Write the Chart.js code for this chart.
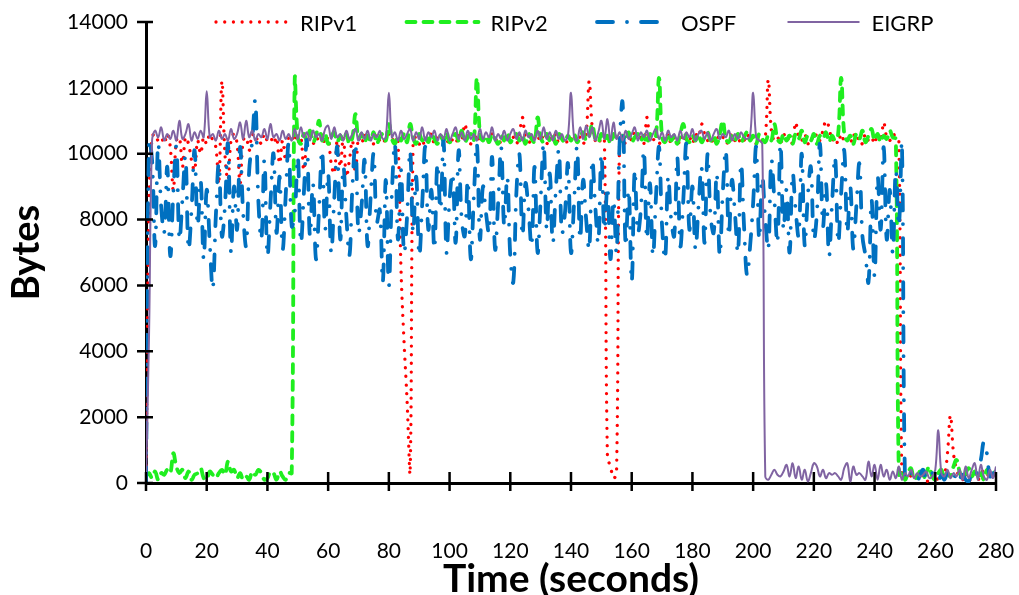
<!DOCTYPE html>
<html>
<head>
<meta charset="utf-8">
<title>Routing protocol traffic</title>
<script src="https://cdn.jsdelivr.net/npm/chart.js@4.4.1/dist/chart.umd.min.js"></script>
<style>
  html, body { margin: 0; padding: 0; background: #fff; }
  #wrap { width: 1019px; height: 595px; }
</style>
</head>
<body>
<div id="wrap"><canvas id="chart" width="1019" height="595"></canvas></div>
<script>
// Bytes per second, one sample per second from t = 0 to t = 280
const ripv1 = [
  0, 8500, 10500, 10600, 10400, 10500, 10300, 10600, 10200, 8900,
  10400, 10500, 9600, 10500, 10300, 9800, 9500, 10400, 10000, 10500,
  10300, 10600, 10400, 10200, 9100, 12200, 10000, 9200, 10400, 10600,
  10300, 9100, 10400, 10500, 10100, 10600, 10400, 10500, 10300, 10600,
  10400, 10500, 10300, 10500, 9700, 10400, 9800, 10500, 10400, 10600,
  10300, 10500, 9500, 10400, 10600, 10300, 10500, 10400, 10600, 10300,
  10500, 9700, 9400, 10400, 9600, 10500, 9300, 9800, 10400, 9400,
  10500, 10300, 10600, 10400, 10500, 10300, 10600, 10400, 10300, 10500,
  10600, 10400, 10500, 10400, 6500, 4300, 2500, 300, 10400, 10500,
  10300, 10200, 10500, 10400, 10600, 10300, 10500, 10400, 10600, 10300,
  10500, 10400, 10300, 10600, 10400, 10900, 10500, 10300, 10400, 10600,
  10400, 10500, 10300, 10400, 10600, 10400, 10500, 10300, 10400, 10600,
  10400, 10500, 10300, 10600, 11100, 10500, 10400, 10300, 10500, 10400,
  10600, 10400, 10300, 10500, 10400, 10600, 10300, 10400, 10500, 10300,
  10400, 10600, 10400, 10500, 10300, 10600, 12200, 10800, 10400, 10500,
  10300, 10400, 800, 500, 150, 300, 10400, 10500, 10300, 10600,
  10400, 10700, 10400, 10500, 10300, 11100, 10500, 10400, 10600, 10300,
  10500, 10400, 10600, 10300, 10500, 10400, 10300, 10600, 10400, 10500,
  10300, 10600, 10500, 10900, 10600, 10400, 10500, 10300, 10600, 10400,
  10500, 10300, 10400, 10600, 10400, 10500, 10300, 10400, 10600, 10400,
  10500, 10300, 10600, 10400, 10500, 12250, 10700, 10400, 10500, 10300,
  10600, 10400, 10500, 10300, 10950, 10500, 10400, 10600, 10300, 10500,
  10400, 10600, 10400, 10700, 11000, 10800, 10400, 10500, 10300, 10600,
  10400, 10500, 10300, 10600, 10400, 10500, 10300, 10600, 10400, 10500,
  10300, 10600, 10400, 10950, 10500, 10400, 10600, 10500, 10400, 200,
  150, 300, 200, 100, 250, 300, 150, 50, 100, 300,
  200, 100, 300, 250, 900, 2050, 900, 400, 200, 100,
  300, 50, 200, 300, 100, 250, 400, 300, 150, 350, 300
];

const ripv2 = [
  200, 300, 150, 350, 100, 300, 250, 400, 300, 900,
  500, 300, 400, 150, 350, 100, 250, 300, 450, 150,
  100, 350, 250, 150, 300, 400, 250, 650, 350, 400,
  150, 300, 100, 200, 100, 350, 250, 400, 300, 100,
  150, 350, 300, 100, 350, 200, 100, 300, 300, 12250,
  10500, 10300, 10600, 10400, 10700, 10350, 10550, 11000, 10400, 10600,
  10300, 10500, 10650, 10350, 10550, 10400, 10600, 10300, 10500, 11200,
  10450, 10600, 10350, 10550, 10400, 10650, 10300, 10500, 10600, 10400,
  10900, 10450, 10300, 10550, 10400, 10600, 10350, 10900, 10500, 10300,
  10600, 10400, 10550, 10350, 10600, 10450, 10300, 10550, 10400, 10650,
  10350, 10500, 10600, 10400, 10700, 10350, 10500, 10600, 10400, 12300,
  10600, 10400, 10550, 10350, 10600, 10450, 10300, 10550, 10400, 10650,
  10350, 10500, 10600, 10400, 10550, 10300, 10600, 10450, 10350, 11100,
  10500, 10350, 10600, 10400, 10550, 10300, 10600, 10450, 10350, 10550,
  10400, 10600, 10350, 10500, 10650, 10400, 10550, 10900, 10450, 10350,
  10600, 10400, 10550, 10300, 10600, 10450, 10350, 10550, 10400, 10650,
  10350, 10500, 10600, 10400, 10550, 10300, 10600, 10450, 10550, 12300,
  10500, 10350, 10600, 10400, 10550, 10300, 10600, 10900, 10450, 10350,
  10550, 10400, 10600, 10350, 10500, 10650, 10400, 10550, 10300, 10600,
  11000, 10450, 10350, 10550, 10400, 10600, 10350, 10500, 10650, 10400,
  10550, 10300, 10600, 10450, 10350, 10550, 10400, 10900, 10450, 10350,
  10600, 10400, 10550, 10300, 10600, 10450, 10700, 10350, 10550, 10400,
  10600, 10300, 10550, 10450, 10650, 10350, 10550, 10400, 10600, 12300,
  10600, 10400, 10550, 10300, 10600, 10450, 10700, 10350, 10550, 10750,
  10400, 10600, 10350, 10550, 10450, 10700, 10500, 10450, 250, 400,
  100, 300, 450, 100, 200, 350, 150, 300, 500, 200,
  100, 300, 400, 150, 300, 200, 500, 700, 350, 100,
  300, 450, 200, 350, 150, 300, 100, 400, 200, 300, 350
];

const ospf = [
  0, 10400, 9800, 7200, 10300, 8400, 7600, 9600, 6900, 8800,
  10200, 7400, 8600, 9900, 7100, 8300, 10100, 7800, 9200, 6800,
  8900, 7300, 5900, 8100, 9700, 7500, 8400, 10300, 7000, 9000,
  7700, 10200, 8200, 7200, 9500, 10400, 11600, 8600, 7400, 9800,
  6900, 8500, 10000, 7600, 9300, 7100, 8700, 10300, 7800, 8200,
  9900, 7300, 8800, 10400, 7500, 9100, 6800, 8300, 10100, 7700,
  9400, 7000, 8600, 10200, 7400, 9600, 8100, 6900, 9000, 10300,
  7600, 8400, 9800, 7200, 8700, 10000, 7900, 8300, 6100, 9200,
  6000, 8800, 10300, 7400, 9500, 7000, 8100, 10100, 7600, 9300,
  6900, 8500, 10200, 7700, 8900, 7100, 9700, 8300, 10400, 7000,
  8600, 9400, 7300, 10100, 8000, 7500, 9200, 6800, 8700, 10300,
  7400, 9000, 8200, 7600, 9900, 7100, 8500, 10200, 7800, 9300,
  6900, 6100, 8800, 10000, 7500, 9100, 8300, 7200, 9600, 7000,
  8600, 10300, 7700, 9400, 7300, 8900, 10100, 7600, 8200, 9700,
  7000, 8500, 10200, 7400, 9200, 8000, 7100, 9800, 8400, 7300,
  10000, 7700, 9000, 6800, 8600, 7000, 10300, 11550, 7200, 8900,
  6100, 9500, 7600, 8300, 10100, 7400, 9100, 6900, 8700, 10200,
  7800, 6800, 9300, 8000, 7500, 9900, 7200, 8600, 10300, 7700,
  9000, 7100, 8400, 9600, 7300, 10000, 8100, 7600, 9400, 6900,
  8800, 10100, 7500, 9200, 8200, 7000, 9700, 7800, 6300, 7200,
  8500, 10200, 7400, 9300, 8000, 7100, 9800, 8600, 7300, 10300,
  7700, 8900, 7000, 9400, 8300, 7500, 10000, 7200, 8700, 9600,
  7400, 8200, 10300, 7800, 9100, 6900, 8500, 9900, 7300, 8800,
  10100, 7600, 9000, 7100, 8400, 9700, 7500, 6900, 6100, 8600,
  6300, 9300, 7700, 10200, 7400, 8900, 7000, 9500, 7800, 10300,
  200, 100, 300, 150, 50, 250, 400, 100, 200, 300,
  150, 50, 250, 100, 300, 200, 100, 350, 150, 250,
  100, 50, 300, 200, 400, 700, 1250, 900, 200, 300, 150
];

const eigrp = [
  0, 4500, 10400, 10700, 10500, 10800, 10400, 10600, 10450, 10700,
  10400, 11000, 10450, 10600, 10900, 10400, 10650, 10450, 10700, 10500,
  11900, 10500, 10600, 10400, 10700, 10450, 10600, 10400, 10750, 10450,
  10600, 10950, 10450, 11000, 10500, 10700, 10400, 10600, 10500, 10750,
  10450, 10900, 10500, 10600, 10400, 10700, 10450, 10600, 10400, 10750,
  10450, 10800, 10500, 10650, 10400, 10700, 10500, 10600, 10400, 10750,
  10850, 10450, 10800, 10500, 10600, 10400, 10700, 10450, 10600, 10750,
  10400, 10650, 10450, 10700, 10400, 10600, 10500, 10700, 10450, 10500,
  11850, 10500, 10650, 10400, 10700, 10450, 10600, 10750, 10400, 10650,
  10450, 10800, 10400, 10650, 10500, 10700, 10400, 10600, 10450, 10750,
  10400, 10600, 10800, 10450, 10650, 10400, 10700, 10450, 10600, 10400,
  10750, 10450, 10650, 10500, 10800, 10400, 10600, 10450, 10700, 10400,
  10600, 10750, 10450, 10650, 10400, 10700, 10500, 10600, 10400, 10700,
  10450, 10800, 10450, 10650, 10400, 10700, 10450, 10600, 10400, 10550,
  11850, 10500, 10400, 10800, 10450, 10850, 10500, 10800, 10400, 10650,
  11000, 10450, 11050, 10400, 10950, 10450, 10650, 10400, 10700, 10450,
  10600, 10800, 10400, 10650, 10500, 10700, 10400, 10600, 10750, 10450,
  10650, 10400, 10700, 10500, 10600, 10400, 10700, 10450, 10650, 10500,
  10750, 10400, 10600, 10700, 10450, 10650, 10400, 10600, 10750, 10450,
  10600, 10500, 10700, 10400, 10600, 10450, 10650, 10500, 10450, 10550,
  11850, 10500, 10400, 10300, 200, 100, 250, 400, 250, 200,
  350, 550, 200, 600, 150, 500, 100, 400, 50, 300,
  600, 500, 200, 400, 150, 300, 250, 300, 200, 100,
  450, 600, 50, 500, 250, 300, 200, 100, 650, 200,
  550, 100, 550, 200, 400, 100, 350, 150, 500, 100,
  300, 200, 400, 150, 300, 200, 250, 350, 150, 200,
  400, 1600, 300, 200, 400, 150, 300, 200, 400, 100,
  500, 150, 400, 600, 100, 550, 200, 100, 400, 150, 500
];

const seriesLabels = ['RIPv1', 'RIPv2', 'OSPF', 'EIGRP'];
const xTitle = 'Time (seconds)';
const yTitle = 'Bytes';

const FONT = 'Lato';

function toPoints(values) {
  return values.map((v, second) => ({ x: second, y: v }));
}

// Excel-style axis ticks that cross the axis line
const crossTicks = {
  id: 'crossTicks',
  afterDraw(chart) {
    const { ctx, chartArea, scales } = chart;
    ctx.save();
    ctx.strokeStyle = '#000';
    ctx.lineWidth = 2.5;
    ctx.beginPath();
    scales.y.ticks.forEach(t => {
      const py = scales.y.getPixelForValue(t.value);
      ctx.moveTo(chartArea.left - 9, py);
      ctx.lineTo(chartArea.left + 7, py);
    });
    scales.x.ticks.forEach(t => {
      const px = scales.x.getPixelForValue(t.value);
      ctx.moveTo(px, chartArea.bottom - 11);
      ctx.lineTo(px, chartArea.bottom + 8);
    });
    ctx.stroke();
    ctx.restore();
  }
};

// Legend drawn in fixed slots over the top of the plot
const lineLegend = {
  id: 'lineLegend',
  afterDraw(chart) {
    const { ctx } = chart;
    const slotStart = 216;
    const slotWidth = 190.5;
    const sample = 72;
    ctx.save();
    ctx.font = '22px ' + FONT;
    ctx.textBaseline = 'middle';
    chart.data.datasets.forEach((ds, i) => {
      const x0 = slotStart + i * slotWidth;
      ctx.strokeStyle = ds.borderColor;
      ctx.lineWidth = ds.borderWidth;
      ctx.lineCap = ds.borderCapStyle || 'butt';
      ctx.setLineDash(ds.borderDash || []);
      ctx.beginPath();
      ctx.moveTo(x0, 22);
      ctx.lineTo(x0 + sample, 22);
      ctx.stroke();
      ctx.setLineDash([]);
      ctx.fillStyle = '#000';
      ctx.fillText(ds.label, x0 + sample + 12, 24);
    });
    ctx.restore();
  }
};

new Chart(document.getElementById('chart'), {
  type: 'line',
  data: {
    datasets: [
      {
        label: seriesLabels[0],
        data: toPoints(ripv1),
        borderColor: '#FF0000',
        borderWidth: 3.3,
        borderDash: [0.01, 8.7],
        borderCapStyle: 'round',
        order: 4
      },
      {
        label: seriesLabels[1],
        data: toPoints(ripv2),
        borderColor: '#1FEE1F',
        borderWidth: 3.8,
        borderDash: [9, 8],
        borderCapStyle: 'round',
        order: 3
      },
      {
        label: seriesLabels[2],
        data: toPoints(ospf),
        borderColor: '#0070C0',
        borderWidth: 3.8,
        borderDash: [16, 14, 0.01, 14],
        borderCapStyle: 'round',
        order: 2
      },
      {
        label: seriesLabels[3],
        data: toPoints(eigrp),
        borderColor: '#8064A2',
        borderWidth: 2,
        order: 1
      }
    ]
  },
  options: {
    responsive: false,
    animation: false,
    events: [],
    elements: {
      point: { radius: 0 },
      line: { tension: 0.4, fill: false }
    },
    layout: { padding: { top: 22, right: 23, left: 0, bottom: 0 } },
    plugins: {
      legend: { display: false },
      tooltip: { enabled: false }
    },
    scales: {
      x: {
        type: 'linear',
        min: 0,
        max: 280,
        ticks: {
          stepSize: 20,
          padding: 4,
          color: '#000',
          maxRotation: 0,
          font: { family: FONT, size: 21 },
          callback: value => String(value)
        },
        // invisible tick marks only push the labels down, away from the axis
        grid: {
          display: true,
          drawOnChartArea: false,
          drawTicks: true,
          tickLength: 52,
          tickColor: 'rgba(0,0,0,0)'
        },
        border: { color: '#000', width: 3 },
        title: {
          display: true,
          text: xTitle,
          color: '#000',
          font: { family: FONT, size: 39, weight: 'bold', lineHeight: 0.8 },
          padding: 0
        },
        afterFit(scale) { scale.height = 112; }
      },
      y: {
        min: 0,
        max: 14000,
        ticks: {
          stepSize: 2000,
          padding: 4,
          color: '#000',
          font: { family: FONT, size: 21 },
          callback: value => String(value)
        },
        grid: {
          display: true,
          drawOnChartArea: false,
          drawTicks: true,
          tickLength: 14,
          tickColor: 'rgba(0,0,0,0)'
        },
        border: { color: '#000', width: 3 },
        title: {
          display: true,
          text: yTitle,
          color: '#000',
          font: { family: FONT, size: 38, weight: 'bold' },
          padding: { top: 4, bottom: 0 }
        },
        afterFit(scale) { scale.width = 146; }
      }
    }
  },
  plugins: [crossTicks, lineLegend]
});
</script>
</body>
</html>
